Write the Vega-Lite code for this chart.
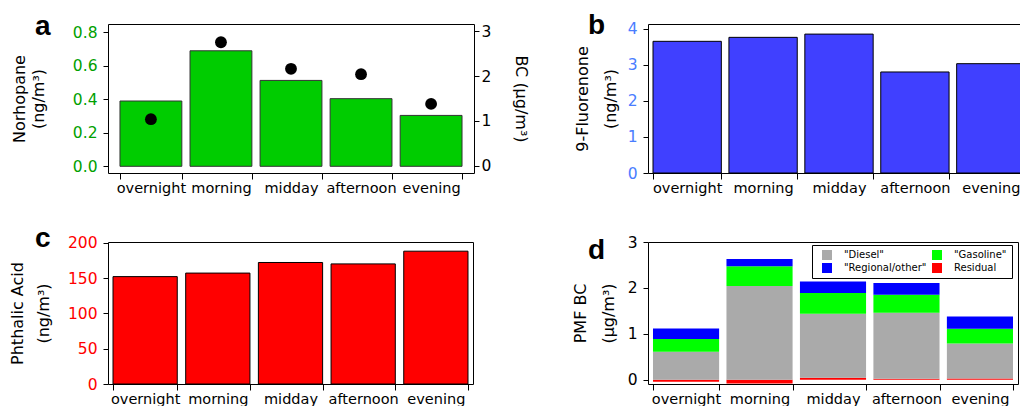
{
  "$schema": "https://vega.github.io/schema/vega-lite/v6.json",
  "padding": {"left": 8, "top": 11, "right": -10, "bottom": 0},
  "bounds": "flush",
  "columns": 2,
  "spacing": {"row": 69, "column": 174},
  "resolve": {"legend": {"color": "independent"}},
  "datasets": {
    "main": [
      {"period": "overnight", "norhopane": 0.39, "bc": 1.04, "fluorenone": 3.65, "phthalic": 152},
      {"period": "morning", "norhopane": 0.69, "bc": 2.75, "fluorenone": 3.76, "phthalic": 157},
      {"period": "midday", "norhopane": 0.513, "bc": 2.16, "fluorenone": 3.85, "phthalic": 172},
      {"period": "afternoon", "norhopane": 0.404, "bc": 2.04, "fluorenone": 2.8, "phthalic": 170},
      {"period": "evening", "norhopane": 0.304, "bc": 1.38, "fluorenone": 3.03, "phthalic": 188}
    ],
    "pmf": [
      {"period": "overnight", "source": "Residual", "rank": 0, "value": -0.04},
      {"period": "overnight", "source": "\"Diesel\"", "rank": 1, "value": 0.61},
      {"period": "overnight", "source": "\"Gasoline\"", "rank": 2, "value": 0.28},
      {"period": "overnight", "source": "\"Regional/other\"", "rank": 3, "value": 0.23},
      {"period": "morning", "source": "Residual", "rank": 0, "value": -0.08},
      {"period": "morning", "source": "\"Diesel\"", "rank": 1, "value": 2.04},
      {"period": "morning", "source": "\"Gasoline\"", "rank": 2, "value": 0.43},
      {"period": "morning", "source": "\"Regional/other\"", "rank": 3, "value": 0.16},
      {"period": "midday", "source": "Residual", "rank": 0, "value": 0.044},
      {"period": "midday", "source": "\"Diesel\"", "rank": 1, "value": 1.396},
      {"period": "midday", "source": "\"Gasoline\"", "rank": 2, "value": 0.45},
      {"period": "midday", "source": "\"Regional/other\"", "rank": 3, "value": 0.25},
      {"period": "afternoon", "source": "Residual", "rank": 0, "value": 0.022},
      {"period": "afternoon", "source": "\"Diesel\"", "rank": 1, "value": 1.438},
      {"period": "afternoon", "source": "\"Gasoline\"", "rank": 2, "value": 0.39},
      {"period": "afternoon", "source": "\"Regional/other\"", "rank": 3, "value": 0.26},
      {"period": "evening", "source": "Residual", "rank": 0, "value": 0.03},
      {"period": "evening", "source": "\"Diesel\"", "rank": 1, "value": 0.76},
      {"period": "evening", "source": "\"Gasoline\"", "rank": 2, "value": 0.32},
      {"period": "evening", "source": "\"Regional/other\"", "rank": 3, "value": 0.27}
    ]
  },
  "concat": [
    {
      "width": 366,
      "height": 149,
      "title": {"text": "a", "dx": -73, "dy": 21},
      "data": {"name": "main"},
      "encoding": {
        "x": {
          "field": "period", "type": "nominal",
          "scale": {"domain": ["overnight", "morning", "midday", "afternoon", "evening"], "paddingInner": 0.117, "paddingOuter": 0.171},
          "axis": {"title": null}
        }
      },
      "layer": [
        {
          "mark": {"type": "bar", "fill": "#00cc00", "stroke": "#333333", "strokeWidth": 1},
          "encoding": {
            "y": {
              "field": "norhopane", "type": "quantitative",
              "scale": {"domain": [-0.04, 0.85], "nice": false},
              "axis": {"title": ["Norhopane", "(ng/m³)"], "values": [0, 0.2, 0.4, 0.6, 0.8], "format": ".1f", "labelColor": "#00a000", "titlePadding": 26, "titleLineHeight": 19}
            }
          }
        },
        {
          "mark": {"type": "point", "filled": true, "color": "black", "size": 140, "opacity": 1},
          "encoding": {
            "y": {
              "field": "bc", "type": "quantitative",
              "scale": {"domain": [-0.156, 3.156], "nice": false},
              "axis": {"orient": "right", "title": "BC (μg/m³)", "titleAngle": 90, "values": [0, 1, 2, 3], "format": "d", "labelPadding": 2, "titlePadding": 22}
            }
          }
        }
      ],
      "resolve": {"scale": {"y": "independent"}}
    },
    {
      "width": 382,
      "height": 149,
      "title": {"text": "b", "dx": -60, "dy": 22},
      "data": {"name": "main"},
      "mark": {"type": "bar", "fill": "#4040ff", "stroke": "black", "strokeWidth": 1},
      "encoding": {
        "x": {
          "field": "period", "type": "nominal",
          "scale": {"domain": ["overnight", "morning", "midday", "afternoon", "evening"], "paddingInner": 0.1, "paddingOuter": 0.066},
          "axis": {"title": null}
        },
        "y": {
          "field": "fluorenone", "type": "quantitative",
          "scale": {"domain": [0, 4.13], "nice": false},
          "axis": {"title": ["9-Fluorenone", "(ng/m³)"], "values": [0, 1, 2, 3, 4], "format": "d", "labelColor": "#4a7dff", "titlePadding": 9, "titleLineHeight": 28}
        }
      }
    },
    {
      "width": 365,
      "height": 142,
      "title": {"text": "c", "dx": -73, "dy": 21},
      "data": {"name": "main"},
      "mark": {"type": "bar", "fill": "#ff0000", "stroke": "black", "strokeWidth": 1},
      "encoding": {
        "x": {
          "field": "period", "type": "nominal",
          "scale": {"domain": ["overnight", "morning", "midday", "afternoon", "evening"], "paddingInner": 0.116, "paddingOuter": 0.069},
          "axis": {"title": null}
        },
        "y": {
          "field": "phthalic", "type": "quantitative",
          "scale": {"domain": [0, 201], "nice": false},
          "axis": {"title": ["Phthalic Acid", "(ng/m³)"], "values": [0, 50, 100, 150, 200], "format": "d", "labelColor": "#ff0000", "titlePadding": 16, "titleLineHeight": 26}
        }
      }
    },
    {
      "width": 370,
      "height": 142,
      "title": {"text": "d", "dx": -60, "dy": 34},
      "data": {"name": "pmf"},
      "mark": {"type": "bar"},
      "encoding": {
        "x": {
          "field": "period", "type": "nominal",
          "scale": {"domain": ["overnight", "morning", "midday", "afternoon", "evening"], "paddingInner": 0.1, "paddingOuter": 0.068},
          "axis": {"title": null}
        },
        "y": {
          "field": "value", "type": "quantitative", "stack": "zero",
          "scale": {"domain": [-0.09, 3.0], "nice": false},
          "axis": {"title": ["PMF BC", "(μg/m³)"], "values": [0, 1, 2, 3], "format": "d", "titlePadding": 11, "titleLineHeight": 28}
        },
        "color": {
          "field": "source", "type": "nominal",
          "scale": {"domain": ["\"Diesel\"", "\"Regional/other\"", "\"Gasoline\"", "Residual"], "range": ["#aaaaaa", "#0000ff", "#00ff00", "#ff0000"]},
          "legend": {"title": null, "orient": "none", "legendX": 164, "legendY": 3, "columns": 2, "symbolType": "square", "symbolSize": 100, "symbolStrokeWidth": 0, "symbolOffset": 5, "labelFont": "DejaVu Sans", "labelFontSize": 10, "labelColor": "black", "labelOffset": 12, "columnPadding": 0, "rowPadding": 3, "strokeColor": "black", "padding": 5, "fillColor": "white"}
        },
        "order": {"field": "rank", "type": "quantitative"}
      }
    }
  ],
  "config": {
    "font": "DejaVu Sans",
    "view": {"stroke": "black", "strokeWidth": 1},
    "axis": {"labelFont": "DejaVu Sans", "labelFontSize": 14.5, "labelColor": "black", "titleFont": "DejaVu Sans", "titleFontSize": 16, "titleFontWeight": "normal", "titleColor": "black", "titleLineHeight": 19, "tickColor": "black", "domain": false, "grid": false, "tickSize": 5, "labelPadding": 3},
    "axisY": {"labelFontSize": 15.5, "labelPadding": 6},
    "axisX": {"tickBand": "extent", "tickSize": 6, "labelAngle": 0, "labelPadding": 2},
    "title": {"font": "Liberation Sans", "fontSize": 28, "fontWeight": "bold", "anchor": "start", "frame": "group", "offset": 0, "baseline": "alphabetic", "color": "black"}
  }
}
